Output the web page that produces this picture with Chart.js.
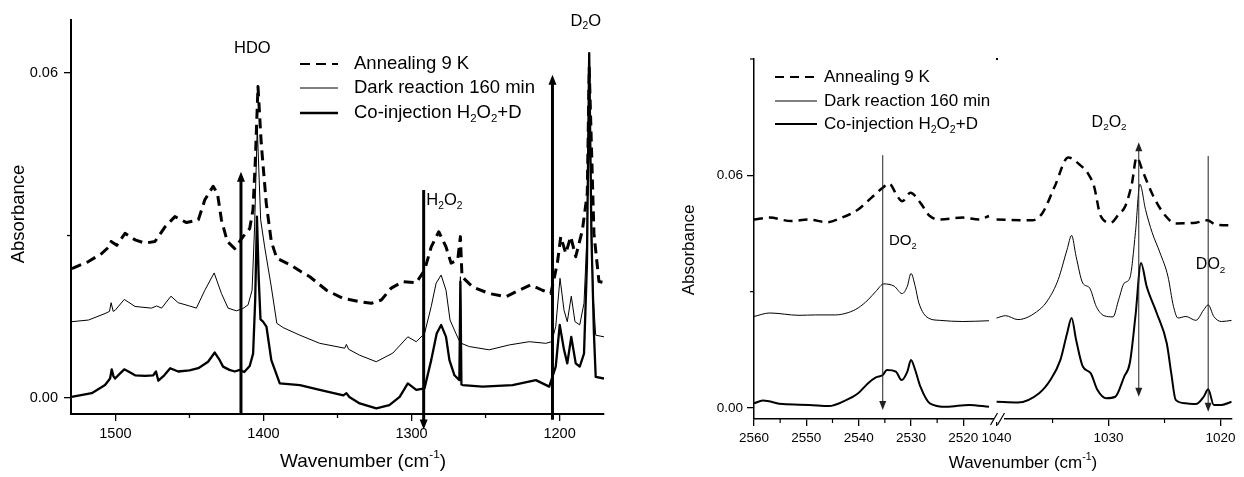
<!DOCTYPE html>
<html>
<head>
<meta charset="utf-8">
<script src="https://cdn.jsdelivr.net/npm/chart.js@4.4.1/dist/chart.umd.min.js"></script>
<style>
  html, body { margin: 0; padding: 0; background: #fff; }
  #wrap { position: relative; width: 1244px; height: 477px; overflow: hidden; }
  canvas { position: absolute; top: 0; }
  #leftChart { left: 0; }
  #rightChart { left: 620px; }
</style>
</head>
<body>
<div id="wrap">
  <canvas id="leftChart" width="620" height="477"></canvas>
  <canvas id="rightChart" width="624" height="477"></canvas>
</div>
<script>
const FONT = "'Liberation Sans', Arial, sans-serif";
const seriesNames = ["Annealing 9 K", "Dark reaction 160 min", "Co-injection H_{2}O_{2}+D"];

// left panel, 1530-1170 cm-1: [wavenumber, absorbance]
const leftAnnealing = [
  [1529.4, 0.0239], [1518.2, 0.0252], [1509.2, 0.0267], [1504, 0.0280], [1502.9, 0.0289], [1499.1, 0.0282],
  [1493.5, 0.0304], [1486.7, 0.0292], [1480, 0.0286], [1473.3, 0.0289], [1466.5, 0.0316], [1459.8, 0.0335],
  [1452, 0.0324], [1444, 0.0329], [1439.6, 0.0366], [1434, 0.0391], [1431.1, 0.0378], [1428.4, 0.0329],
  [1424.4, 0.0289], [1419.4, 0.0276], [1413.8, 0.0298], [1409.3, 0.0313], [1407.1, 0.0347], [1405.5, 0.0439],
  [1403.7, 0.0575], [1401.5, 0.0470], [1398.1, 0.0359], [1394.7, 0.0289], [1391, 0.0258], [1382, 0.0246],
  [1374.5, 0.0233], [1368.7, 0.0224], [1357.4, 0.0199], [1346.3, 0.0184], [1335, 0.0178], [1327.1, 0.0175],
  [1320.4, 0.0181], [1313.7, 0.0203], [1305.8, 0.0215], [1296.8, 0.0213], [1291.2, 0.0236], [1286.7, 0.0279],
  [1281.6, 0.0307], [1276.7, 0.0279], [1273.3, 0.0249], [1268.8, 0.0255], [1267, 0.0298], [1265.9, 0.0224],
  [1258.7, 0.0205], [1247.5, 0.0193], [1236.2, 0.0187], [1227.3, 0.0199], [1219.4, 0.0209], [1211.6, 0.0199],
  [1205.9, 0.0193], [1201.5, 0.0249], [1199.2, 0.0298], [1195.8, 0.0267], [1192.5, 0.0298], [1189.1, 0.0261],
  [1184.6, 0.0310], [1181.3, 0.0378], [1180, 0.0610], [1176.8, 0.0304], [1173.4, 0.0215], [1170, 0.0213]
];
const leftDark = [
  [1529.4, 0.0141], [1518.2, 0.0144], [1507, 0.0156], [1504, 0.0160], [1502.9, 0.0176], [1501.5, 0.0160],
  [1500.2, 0.0162], [1494, 0.0182], [1486.7, 0.0169], [1475.6, 0.0166], [1472.2, 0.0170], [1468.8, 0.0166],
  [1462.5, 0.0188], [1457.6, 0.0176], [1450, 0.0170], [1445.3, 0.0166], [1439.6, 0.0199], [1433.3, 0.0231],
  [1428.4, 0.0193], [1423.9, 0.0166], [1418.3, 0.0161], [1414, 0.0165], [1410.4, 0.0172], [1407.7, 0.0199],
  [1406, 0.0316], [1404.2, 0.0501], [1401.9, 0.0329], [1399.2, 0.0279], [1394.7, 0.0205], [1391, 0.0138],
  [1386.7, 0.0130], [1375.4, 0.0116], [1362, 0.0101], [1345.1, 0.0092], [1344, 0.0099], [1342.5, 0.0090],
  [1335, 0.0079], [1323.8, 0.0067], [1312.6, 0.0083], [1302.5, 0.0113], [1296.8, 0.0104], [1291.2, 0.0119],
  [1286.7, 0.0169], [1283.4, 0.0212], [1280, 0.0227], [1276.7, 0.0199], [1274, 0.0144], [1270, 0.0119],
  [1267.6, 0.0105], [1267, 0.0224], [1266.4, 0.0101], [1261, 0.0095], [1247.5, 0.0089], [1234, 0.0098],
  [1220.5, 0.0104], [1209.3, 0.0101], [1205.3, 0.0104], [1202.6, 0.0132], [1199.7, 0.0221], [1197, 0.0162],
  [1194.8, 0.0141], [1192.1, 0.0188], [1189.6, 0.0141], [1186.4, 0.0135], [1183.5, 0.0175], [1181.5, 0.0300],
  [1180, 0.0620], [1178.5, 0.0330], [1177.4, 0.0193], [1175.6, 0.0116], [1170, 0.0113]
];
const leftCoinjection = [
  [1529.6, 0.0002], [1516, 0.0009], [1507, 0.0024], [1503.6, 0.0036], [1502.5, 0.0053], [1501.3, 0.0040],
  [1500.2, 0.0036], [1497, 0.0045], [1494, 0.0053], [1490, 0.0047], [1486.7, 0.0042], [1480, 0.0041],
  [1474.4, 0.0042], [1472.6, 0.0049], [1471, 0.0032], [1467, 0.0042], [1463, 0.0055], [1457.6, 0.0049],
  [1450, 0.0051], [1444, 0.0055], [1437.4, 0.0067], [1432.9, 0.0084], [1430, 0.0072], [1427.3, 0.0058],
  [1423, 0.0052], [1419.4, 0.0049], [1416, 0.0052], [1413, 0.0048], [1409.3, 0.0059], [1407, 0.0082],
  [1405.6, 0.0180], [1404.4, 0.0335], [1403.2, 0.0220], [1402, 0.0145], [1400.3, 0.0141], [1398, 0.0132],
  [1394.7, 0.0070], [1389, 0.0027], [1375.4, 0.0024], [1362, 0.0015], [1346, 0.0005], [1344, 0.0009],
  [1342, 0.0002], [1335, -0.0010], [1323.8, -0.0019], [1315, -0.0013], [1308, 0.0002], [1302.5, 0.0027],
  [1296.8, 0.0015], [1291.2, 0.0018], [1286.7, 0.0070], [1283, 0.0119], [1280, 0.0135], [1276.7, 0.0113],
  [1274.4, 0.0070], [1271, 0.0042], [1267.7, 0.0033], [1267, 0.0215], [1266.3, 0.0025], [1265.4, 0.0024],
  [1252, 0.0021], [1231.8, 0.0024], [1216, 0.0033], [1207, 0.0021], [1202.6, 0.0058], [1199.9, 0.0135],
  [1197, 0.0089], [1194.8, 0.0064], [1192.1, 0.0113], [1189.1, 0.0064], [1186.4, 0.0058], [1183.5, 0.0082],
  [1181.5, 0.0250], [1180, 0.0637], [1178.5, 0.0300], [1176.8, 0.0119], [1175.6, 0.0039], [1170, 0.0036]
];

// right panel, first segment 2560-2515 cm-1
const highAnnealing = [
  [2560, 0.0486], [2557, 0.0491], [2552.9, 0.0482], [2549.5, 0.0486], [2546.1, 0.0479], [2543.2, 0.0491],
  [2540.1, 0.0512], [2537.6, 0.0542], [2535.4, 0.0568], [2534.2, 0.0579], [2532.6, 0.0546], [2531.7, 0.0533],
  [2530.1, 0.0555], [2528.2, 0.0529], [2526.4, 0.0495], [2524.5, 0.0486], [2520.1, 0.0491], [2517, 0.0486],
  [2515.1, 0.0495]
];
const highDark = [
  [2560, 0.0236], [2557, 0.0245], [2551.4, 0.0239], [2548.2, 0.0240], [2544.5, 0.0240], [2542, 0.0246],
  [2540.1, 0.0258], [2538.2, 0.0279], [2536.7, 0.0301], [2535.2, 0.0320], [2533.2, 0.0314], [2531.7, 0.0295],
  [2530.7, 0.0314], [2530, 0.0347], [2529.2, 0.0314], [2528.5, 0.0271], [2526.7, 0.0232], [2524.5, 0.0226],
  [2520.1, 0.0223], [2515.1, 0.0225]
];
const highCoinjection = [
  [2560, 0.0012], [2558.3, 0.0019], [2554.5, 0.0010], [2549.5, 0.0008], [2545.7, 0.0005], [2542.6, 0.0019],
  [2540.1, 0.0038], [2538.2, 0.0064], [2536.7, 0.0079], [2535.4, 0.0085], [2534.6, 0.0098], [2532.9, 0.0094],
  [2531.8, 0.0072], [2530.7, 0.0094], [2530, 0.0124], [2529.2, 0.0098], [2528.2, 0.0055], [2526.4, 0.0012],
  [2523.2, 0.0003], [2518.9, 0.0008], [2515.1, 0.0003]
];

// right panel, second segment 1040-1019 cm-1
const lowAnnealing = [
  [1040, 0.0486], [1036.8, 0.0484], [1035.9, 0.0503], [1034.8, 0.0572], [1033.6, 0.0646], [1032.6, 0.0628],
  [1031.8, 0.0603], [1031.3, 0.0572], [1030.7, 0.0495], [1029.8, 0.0478], [1029.1, 0.0499], [1028.5, 0.0521],
  [1027.9, 0.0581], [1027.5, 0.0646], [1026.9, 0.0607], [1026, 0.0546], [1024.9, 0.0495], [1024, 0.0476],
  [1022.2, 0.0478], [1021.2, 0.0484], [1020.4, 0.0473], [1019, 0.0471]
];
const lowDark = [
  [1040, 0.0232], [1039.2, 0.0238], [1038.1, 0.0228], [1036.2, 0.0253], [1035.4, 0.0279], [1034.5, 0.0331],
  [1033.7, 0.0409], [1033.3, 0.0445], [1032.9, 0.0391], [1032.3, 0.0322], [1031.7, 0.0310], [1031.1, 0.0262],
  [1030.4, 0.0238], [1029.6, 0.0235], [1029.1, 0.0279], [1028.6, 0.0322], [1028.1, 0.0335], [1027.6, 0.0452],
  [1027.2, 0.0577], [1026.7, 0.0512], [1026.1, 0.0452], [1025.4, 0.0400], [1024.7, 0.0340], [1024.2, 0.0262],
  [1023.8, 0.0232], [1023.1, 0.0236], [1022.2, 0.0226], [1021.5, 0.0253], [1021.1, 0.0266], [1020.6, 0.0236],
  [1019.9, 0.0223], [1019, 0.0226]
];
const lowCoinjection = [
  [1040, 0.0016], [1038.1, 0.0014], [1036.2, 0.0038], [1035.2, 0.0072], [1034.3, 0.0124], [1033.7, 0.0193],
  [1033.3, 0.0232], [1032.9, 0.0176], [1032.3, 0.0107], [1031.6, 0.0090], [1031, 0.0047], [1030.2, 0.0025],
  [1029.4, 0.0029], [1028.6, 0.0081], [1028.1, 0.0116], [1027.6, 0.0236], [1027.1, 0.0374], [1026.6, 0.0314],
  [1025.7, 0.0245], [1024.8, 0.0167], [1024.4, 0.0090], [1024, 0.0021], [1023.1, 0.0012], [1022.2, 0.0010],
  [1021.5, 0.0029], [1021.1, 0.0048], [1020.6, 0.0008], [1019.9, 0.0008], [1019, 0.0016]
];

// ticks
const leftXMajor = [1500, 1400, 1300, 1200];
const leftXMinor = [1450, 1350, 1250];
const leftYMajor = [0, 0.06];
const leftYMinor = [0.03];
const rightYMajor = [0, 0.06];
const rightYMinor = [0.03, 0.09];
const highXMajor = [2560, 2550, 2540, 2530, 2520];
const highXMinor = [2555, 2545, 2535, 2525];
const lowXMajor = [1040, 1030, 1020];
const lowXMinor = [1035, 1025];

// annotations: arrows [wavenumber, from, to, bothHeads] and peak labels [text, wavenumber, absorbance, align]
const leftArrows = [[1415.2, -0.0028, 0.0418, false], [1291.8, 0.0384, -0.0058, false], [1204.8, -0.004, 0.0597, false]];
const leftLabels = [["HDO", 1407.5, 0.0645, "center"], ["H_{2}O_{2}", 1290, 0.0365, "left"], ["D_{2}O", 1182.3, 0.0696, "center"]];
const highArrows = [[2535.4, 0.0652, -0.0005, false]];
const highLabels = [["DO_{2}", 2534.2, 0.0430, "left"]];
const lowArrows = [[1027.3, 0.0029, 0.0685, true], [1021.1, 0.0650, -0.0010, false]];
const lowLabels = [["D_{2}O_{2}", 1029.95, 0.0737, "center"], ["DO_{2}", 1022.2, 0.0370, "left"]];

function toXY(rows) {
  return rows.map(([x, y]) => ({ x, y }));
}

function richParts(str) {
  const parts = [];
  const re = /([_^])\{([^}]*)\}/g;
  let last = 0, m;
  while ((m = re.exec(str))) {
    if (m.index > last) parts.push({ t: str.slice(last, m.index), k: 0 });
    parts.push({ t: m[2], k: m[1] === "_" ? 1 : -1 });
    last = re.lastIndex;
  }
  if (last < str.length) parts.push({ t: str.slice(last), k: 0 });
  return parts;
}

function drawRich(ctx, str, x, y, size, align) {
  const parts = richParts(str);
  const fontFor = (k) => `${k ? size * 0.62 : size}px ${FONT}`;
  let w = 0;
  parts.forEach((p) => { ctx.font = fontFor(p.k); p.w = ctx.measureText(p.t).width; w += p.w; });
  let cx = align === "center" ? x - w / 2 : align === "right" ? x - w : x;
  ctx.textAlign = "left";
  ctx.textBaseline = "middle";
  ctx.fillStyle = "#000";
  parts.forEach((p) => {
    ctx.font = fontFor(p.k);
    const dy = p.k === 1 ? size * 0.33 : p.k === -1 ? -size * 0.36 : 0;
    ctx.fillText(p.t, cx, y + dy);
    cx += p.w;
  });
}

function makeDecor(cfg) {
  return {
    id: "decor",
    afterDraw(chart) {
      const { ctx } = chart;
      const ys = chart.scales.y;
      ctx.save();
      // minor ticks
      cfg.minor.forEach(([axisId, values]) => {
        const s = chart.scales[axisId];
        ctx.strokeStyle = "#000";
        ctx.lineWidth = cfg.tickWidth;
        values.forEach((v) => {
          const p = s.getPixelForValue(v);
          ctx.beginPath();
          if (s.isHorizontal()) { ctx.moveTo(p, s.top); ctx.lineTo(p, s.top + cfg.minorLen); }
          else { ctx.moveTo(s.right, p); ctx.lineTo(s.right - cfg.minorLen, p); }
          ctx.stroke();
        });
      });
      // arrows
      cfg.arrows.forEach(([axisId, list]) => {
        const xs = chart.scales[axisId];
        list.forEach(([xv, from, to, both]) => {
          const px = xs.getPixelForValue(xv);
          const y1 = ys.getPixelForValue(from);
          const y2 = ys.getPixelForValue(to);
          const dir = y2 > y1 ? 1 : -1;
          const hl = cfg.headLen, hw = cfg.headWidth;
          ctx.strokeStyle = cfg.arrowColor;
          ctx.fillStyle = cfg.arrowColor;
          ctx.lineWidth = cfg.arrowWidth;
          ctx.setLineDash([]);
          ctx.beginPath();
          ctx.moveTo(px, both ? y1 + dir * hl * 0.5 : y1);
          ctx.lineTo(px, y2 - dir * hl * 0.5);
          ctx.stroke();
          const head = (ty, d) => {
            ctx.beginPath();
            ctx.moveTo(px, ty);
            ctx.lineTo(px - hw, ty - d * hl);
            ctx.lineTo(px + hw, ty - d * hl);
            ctx.closePath();
            ctx.fill();
          };
          head(y2, dir);
          if (both) head(y1, -dir);
        });
      });
      // peak labels
      cfg.labels.forEach(([axisId, list, size]) => {
        const xs = chart.scales[axisId];
        list.forEach(([text, xv, yv, align]) => {
          drawRich(ctx, text, xs.getPixelForValue(xv), ys.getPixelForValue(yv), size, align);
        });
      });
      // axis titles
      const t = cfg.titles;
      drawRich(ctx, "Wavenumber (cm^{-1})", t.xCenter, t.xY, t.xSize, "center");
      ctx.save();
      ctx.translate(t.yX, t.yCenter);
      ctx.rotate(-Math.PI / 2);
      drawRich(ctx, "Absorbance", 0, 0, t.ySize, "center");
      ctx.restore();
      // legend
      const lg = cfg.legend;
      chart.data.datasets.slice(0, 3).forEach((ds, i) => {
        const ry = lg.rows[i];
        ctx.strokeStyle = "#000";
        ctx.lineWidth = lg.widths[i];
        ctx.setLineDash(ds.borderDash || []);
        ctx.beginPath();
        ctx.moveTo(lg.x1, ry);
        ctx.lineTo(lg.x2, ry);
        ctx.stroke();
        ctx.setLineDash([]);
        drawRich(ctx, seriesNames[i], lg.tx, ry, lg.size, "left");
      });
      // axis break
      if (cfg.breakAt) {
        const b = cfg.breakAt;
        ctx.fillStyle = "#fff";
        ctx.fillRect(b.x - 3, b.y - 3, 10, 6);
        ctx.strokeStyle = "#000";
        ctx.lineWidth = 1.2;
        [b.x - 3, b.x + 4].forEach((bx) => {
          ctx.beginPath();
          ctx.moveTo(bx - 3.5, b.y + 6);
          ctx.lineTo(bx + 3.5, b.y - 6);
          ctx.stroke();
        });
        ctx.fillStyle = "#000";
        ctx.fillRect(b.x - 1, chart.chartArea.top - 1, 2, 2);
      }
      ctx.restore();
    }
  };
}

function xAxis(min, max, major, size, border, extra) {
  return Object.assign({
    type: "linear",
    position: "bottom",
    min, max,
    reverse: true,
    afterBuildTicks: (s) => { s.ticks = major.map((v) => ({ value: v })); },
    afterFit: (s) => { s.height = extra.height; },
    border: { display: true, color: "#000", width: border },
    grid: { drawOnChartArea: false, drawTicks: true, tickLength: 7, color: "#000", lineWidth: 1.3 },
    ticks: { color: "#000", font: { family: FONT, size }, padding: extra.pad, autoSkip: false, maxRotation: 0, callback: (v) => String(v) }
  }, extra.opts || {});
}

function yAxis(min, max, major, minor, size, border, width, pad) {
  const all = major.concat(minor).sort((a, b) => a - b);
  return {
    type: "linear",
    position: "left",
    min, max,
    afterBuildTicks: (s) => { s.ticks = all.map((v) => ({ value: v })); },
    afterFit: (s) => { s.width = width; },
    border: { display: true, color: "#000", width: border },
    grid: {
      drawOnChartArea: false, drawTicks: true, tickLength: 7, lineWidth: 1.3,
      color: (c) => (c.tick && major.includes(c.tick.value) ? "#000" : "rgba(0,0,0,0)")
    },
    ticks: {
      color: "#000", font: { family: FONT, size }, padding: pad, autoSkip: false,
      callback: (v) => (major.includes(v) ? v.toFixed(2) : "")
    }
  };
}

function line(rows, width, dash, xAxisID) {
  return {
    data: toXY(rows), xAxisID, yAxisID: "y",
    borderColor: "#000", borderWidth: width, borderDash: dash,
    borderJoinStyle: "round", pointRadius: 0, fill: false, tension: 0
  };
}

const common = {
  responsive: false,
  animation: false,
  events: [],
  plugins: { legend: { display: false }, tooltip: { enabled: false } }
};

new Chart(document.getElementById("leftChart"), {
  type: "line",
  data: {
    datasets: [
      line(leftAnnealing, 3, [10, 6], "x"),
      line(leftDark, 1, [], "x"),
      line(leftCoinjection, 2.3, [], "x")
    ]
  },
  options: Object.assign({}, common, {
    layout: { padding: { left: 0, top: 20, right: 16, bottom: 0 } },
    scales: {
      x: xAxis(1170, 1530, leftXMajor, 14.5, 2, { height: 63, pad: 4 }),
      y: yAxis(-0.00295, 0.0698, leftYMajor, leftYMinor, 14.5, 2, 71, 6)
    }
  }),
  plugins: [makeDecor({
    tickWidth: 1.3, minorLen: 4,
    minor: [["x", leftXMinor], ["y", leftYMinor]],
    arrows: [["x", leftArrows]],
    arrowColor: "#000", arrowWidth: 3, headLen: 10, headWidth: 4,
    labels: [["x", leftLabels, 16.5]],
    titles: { xCenter: 363, xY: 462, xSize: 19, yX: 19, yCenter: 214, ySize: 18.5 },
    legend: { x1: 300, x2: 338, tx: 354, rows: [64, 88, 113], size: 18.5, widths: [2.2, 1, 2.5] }
  })]
});

new Chart(document.getElementById("rightChart"), {
  type: "line",
  data: {
    datasets: [
      line(highAnnealing, 2.5, [9, 6], "x"),
      line(highDark, 1, [], "x"),
      line(highCoinjection, 2, [], "x"),
      line(lowAnnealing, 2.5, [9, 6], "x2"),
      line(lowDark, 1, [], "x2"),
      line(lowCoinjection, 2, [], "x2")
    ].map((ds) => Object.assign(ds, { cubicInterpolationMode: "monotone" }))
  },
  options: Object.assign({}, common, {
    layout: { padding: { left: 0, top: 59, right: 2, bottom: 0 } },
    scales: {
      x: xAxis(2514.5, 2560, highXMajor, 13.5, 1.5, { height: 58, pad: 4, opts: { stack: "wn", stackWeight: 242.5 } }),
      x2: xAxis(1019, 1040.4, lowXMajor, 13.5, 1.5, { height: 58, pad: 4, opts: { stack: "wn", stackWeight: 244 } }),
      y: yAxis(-0.00284, 0.09, rightYMajor, rightYMinor, 13.5, 1.5, 134, 4)
    }
  }),
  plugins: [makeDecor({
    tickWidth: 1.2, minorLen: 4,
    minor: [["x", highXMinor], ["x2", lowXMinor], ["y", rightYMinor]],
    arrows: [["x", highArrows], ["x2", lowArrows]],
    arrowColor: "#222", arrowWidth: 1, headLen: 9, headWidth: 3.5,
    labels: [["x", highLabels, 15], ["x2", lowLabels, 16]],
    titles: { xCenter: 403, xY: 463, xSize: 17, yX: 69, yCenter: 250, ySize: 17 },
    legend: { x1: 155, x2: 197, tx: 204, rows: [77, 101, 124], size: 17, widths: [2, 1, 2.2] },
    breakAt: { x: 377, y: 419 }
  })]
});
</script>
</body>
</html>
